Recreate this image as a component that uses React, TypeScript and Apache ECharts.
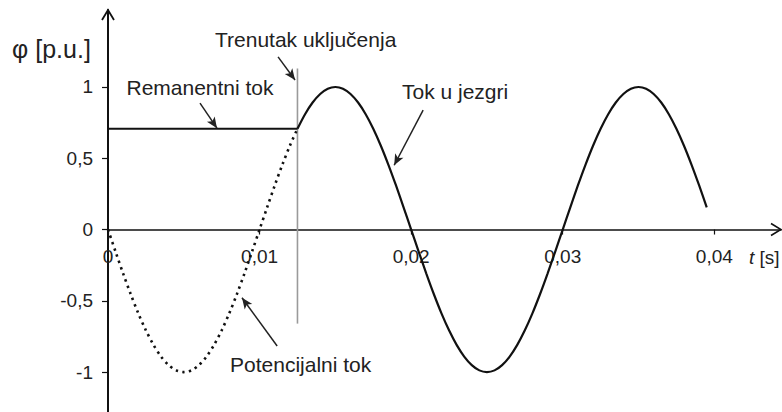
import React, { useEffect, useRef } from 'react';
import * as echarts from 'echarts';

const xTicks = [0, 0.01, 0.02, 0.03, 0.04];
const yTicks = [-1, -0.5, 0, 0.5, 1];

// Potencijalni tok (dotted)
const potentialT = [0, 0.0005, 0.001, 0.0015, 0.002, 0.0025, 0.003, 0.0035, 0.004, 0.0045, 0.005, 0.0055, 0.006, 0.0065, 0.007, 0.0075, 0.008, 0.0085, 0.009, 0.0095, 0.01, 0.0105, 0.011, 0.0115, 0.012, 0.0125];
const potentialV = [0, -0.156, -0.309, -0.454, -0.588, -0.707, -0.809, -0.891, -0.951, -0.988, -1, -0.988, -0.951, -0.891, -0.809, -0.707, -0.588, -0.454, -0.309, -0.156, 0, 0.156, 0.309, 0.454, 0.588, 0.707];

// Tok u jezgri (solid)
const coreT = [0.0125, 0.013, 0.0135, 0.014, 0.0145, 0.015, 0.0155, 0.016, 0.0165, 0.017, 0.0175, 0.018, 0.0185, 0.019, 0.0195, 0.02, 0.0205, 0.021, 0.0215, 0.022, 0.0225, 0.023, 0.0235, 0.024, 0.0245, 0.025, 0.0255, 0.026, 0.0265, 0.027, 0.0275, 0.028, 0.0285, 0.029, 0.0295, 0.03, 0.0305, 0.031, 0.0315, 0.032, 0.0325, 0.033, 0.0335, 0.034, 0.0345, 0.035, 0.0355, 0.036, 0.0365, 0.037, 0.0375, 0.038, 0.0385, 0.039, 0.0395];
const coreV = [0.707, 0.809, 0.891, 0.951, 0.988, 1, 0.988, 0.951, 0.891, 0.809, 0.707, 0.588, 0.454, 0.309, 0.156, 0, -0.156, -0.309, -0.454, -0.588, -0.707, -0.809, -0.891, -0.951, -0.988, -1, -0.988, -0.951, -0.891, -0.809, -0.707, -0.588, -0.454, -0.309, -0.156, 0, 0.156, 0.309, 0.454, 0.588, 0.707, 0.809, 0.891, 0.951, 0.988, 1, 0.988, 0.951, 0.891, 0.809, 0.707, 0.588, 0.454, 0.309, 0.156];

// Remanentni tok (horizontal)
const remanentT = [0, 0.0125];
const remanentV = [0.707, 0.707];

// Trenutak uključenja (vertical)
const switchT = [0.0125, 0.0125];
const switchV = [1.13, -0.66];

const labelTexts = ['Trenutak uključenja', 'Remanentni tok', 'Tok u jezgri', 'Potencijalni tok'];
const labelAt = [[0.01304, 1.331], [0.00607, 0.993], [0.0229, 0.965], [0.01271, -0.944]];
const arrowFrom = [[0.01122, 1.211], [0.00607, 0.887], [0.02079, 0.838], [0.01116, -0.817]];
const arrowTo = [[0.01234, 1.049], [0.00719, 0.711], [0.01888, 0.451], [0.00884, -0.479]];

const yNameAt = [-0.00373, 1.268];
const xNameAt = [0.0433, -0.197];

const X_MIN = 0;
const X_MAX = 0.0444;
const Y_MIN = -1.28;
const Y_MAX = 1.54;

const GRID_TOP = 10;
const GRID_H = 402;

const FONT = '"Liberation Sans", Arial, sans-serif';
const TEXT = '#222';

const zip = (a: number[], b: number[]) => a.map((x, i) => [x, b[i]]);
const fmt = (v: number) => String(v).replace('.', ',');

export default function App() {
  const ref = useRef<HTMLDivElement>(null);
  useEffect(() => {
    document.body.style.margin = '0';
    const chart = echarts.init(ref.current!, null, { renderer: 'svg' });
    // distance from grid bottom up to the y = 0 line
    const zeroFromBottom = (0 - Y_MIN) / (Y_MAX - Y_MIN) * GRID_H;
    chart.setOption({
      animation: false,
      backgroundColor: '#ffffff',
      grid: { left: 108, right: 1, top: GRID_TOP, height: GRID_H, containLabel: false, outerBoundsMode: 'none' },
      xAxis: {
        type: 'value',
        min: X_MIN,
        max: X_MAX,
        position: 'bottom',
        offset: -zeroFromBottom,
        axisLine: { show: true, onZero: false, lineStyle: { color: '#111', width: 1.6 } },
        axisTick: { show: true, length: 5, customValues: xTicks, lineStyle: { color: '#111', width: 1.2 } },
        axisLabel: {
          customValues: xTicks,
          formatter: (v: number) => fmt(v),
          fontSize: 19,
          color: TEXT,
          fontFamily: FONT,
          margin: 17,
        },
        splitLine: { show: false },
      },
      yAxis: {
        type: 'value',
        min: Y_MIN,
        max: Y_MAX,
        axisLine: { show: true, onZero: false, lineStyle: { color: '#111', width: 2 } },
        axisTick: { show: true, length: 6, customValues: yTicks, lineStyle: { color: '#111', width: 1.2 } },
        axisLabel: {
          customValues: yTicks,
          formatter: (v: number) => fmt(v),
          fontSize: 19,
          color: TEXT,
          fontFamily: FONT,
          margin: 15,
        },
        splitLine: { show: false },
      },
      series: [
        {
          type: 'line',
          data: zip(switchT, switchV),
          symbol: 'none',
          lineStyle: { color: '#9a9a9a', width: 1.6 },
          z: 1,
        },
        {
          type: 'line',
          data: zip(potentialT, potentialV),
          symbol: 'none',
          smooth: 0.3,
          lineStyle: { color: '#111', width: 2.6, type: [2.4, 4.2], cap: 'butt' },
          z: 2,
        },
        {
          type: 'line',
          data: zip(remanentT, remanentV),
          symbol: 'none',
          lineStyle: { color: '#111', width: 1.8 },
          z: 3,
          markLine: {
            silent: true,
            symbol: ['none', 'arrow'],
            symbolSize: [7, 11],
            label: { show: false },
            lineStyle: { color: '#222', width: 1.5, type: 'solid' },
            data: arrowFrom.map((f, i) => [{ coord: f }, { coord: arrowTo[i] }]),
          },
        },
        {
          type: 'line',
          data: zip(coreT, coreV),
          symbol: 'none',
          smooth: 0.3,
          lineStyle: { color: '#111', width: 2.2 },
          z: 3,
        },
      ],
    });

    const px = (p: number[]) => chart.convertToPixel({ gridIndex: 0 }, p) as number[];
    const yTop = px([0, Y_MAX]);
    const xEnd = px([X_MAX, 0]);
    const graphic: any[] = [];
    labelTexts.forEach((t, i) => {
      const p = px(labelAt[i]);
      graphic.push({
        type: 'text',
        x: p[0],
        y: p[1],
        style: { text: t, fontSize: 21, fontFamily: FONT, fill: TEXT, align: 'center', verticalAlign: 'middle' },
      });
    });
    const yn = px(yNameAt);
    graphic.push({
      type: 'text',
      x: yn[0],
      y: yn[1],
      style: { text: 'φ [p.u.]', fontSize: 25, fontFamily: FONT, fill: TEXT, align: 'center', verticalAlign: 'middle' },
    });
    const xn = px(xNameAt);
    graphic.push({
      type: 'text',
      x: xn[0],
      y: xn[1],
      style: {
        text: '{i|t} [s]',
        fontSize: 19,
        fontFamily: FONT,
        fill: TEXT,
        align: 'center',
        verticalAlign: 'middle',
        rich: { i: { fontStyle: 'italic', fontSize: 19, fontFamily: FONT, fill: TEXT } },
      },
    });
    graphic.push({
      type: 'polyline',
      shape: { points: [[yTop[0] - 6, yTop[1] + 10], [yTop[0], yTop[1]], [yTop[0] + 6, yTop[1] + 10]] },
      style: { stroke: '#111', lineWidth: 1.8, fill: 'none' },
    });
    graphic.push({
      type: 'polyline',
      shape: { points: [[xEnd[0] - 10, xEnd[1] - 6], [xEnd[0], xEnd[1]], [xEnd[0] - 10, xEnd[1] + 6]] },
      style: { stroke: '#111', lineWidth: 1.6, fill: 'none' },
    });
    chart.setOption({ graphic });
    return () => chart.dispose();
  }, []);
  return <div ref={ref} style={{ width: 782, height: 412 }} />;
}
